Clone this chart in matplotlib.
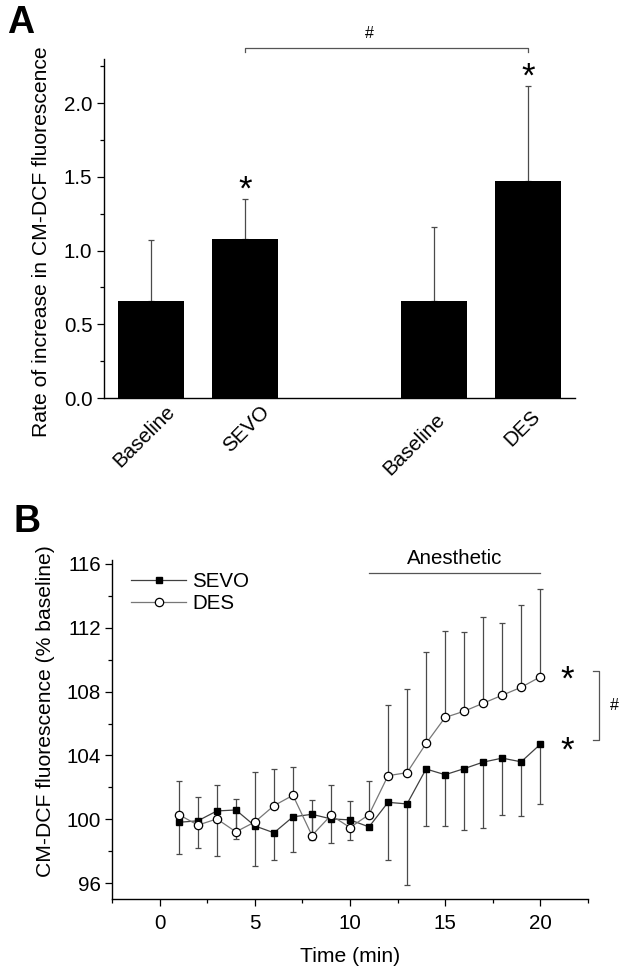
import numpy as np
import matplotlib
matplotlib.use("Agg")
import matplotlib.pyplot as plt
import matplotlib.transforms as mtrans

plt.rcParams['font.family'] = ['Liberation Sans', 'DejaVu Sans']

# ---------------- Data: panel A ----------------
a_labels = ["Baseline", "SEVO", "Baseline", "DES"]
a_pos = [1, 2, 4, 5]
a_values = [0.659, 1.079, 0.655, 1.471]
a_err = [0.413, 0.268, 0.505, 0.644]
a_star = [False, True, False, True]

# ---------------- Data: panel B ----------------
time_min = list(range(1, 21))
sevo_mean = [99.81, 99.90, 100.52, 100.58, 99.58, 99.15, 100.15, 100.31, 100.02, 99.96,
             99.52, 101.06, 100.96, 103.15, 102.79, 103.17, 103.58, 103.83, 103.60, 104.69]
sevo_err_down = [2.00, 1.73, 2.83, 1.79, 2.50, 1.71, 2.23, 1.62, 1.52, 1.25,
                 0.00, 3.62, 5.06, 3.55, 3.23, 3.82, 4.10, 3.56, 3.41, 3.75]
des_mean = [100.29, 99.63, 100.02, 99.21, 99.83, 100.85, 101.50, 98.98, 100.25, 99.48,
            100.29, 102.73, 102.92, 104.75, 106.38, 106.77, 107.27, 107.77, 108.27, 108.92]
des_err_up = [2.11, 1.79, 2.11, 2.04, 3.15, 2.28, 1.77, 2.21, 1.92, 1.65,
              2.11, 4.42, 5.27, 5.73, 5.41, 4.94, 5.40, 4.54, 5.13, 5.49]
anesthetic_span = [11, 20]

W, H = 624, 973
fig = plt.figure(figsize=(W / 100, H / 100), dpi=100)

TICK_FS = 14.8
LABEL_FS = 15.2
ERR_C = '#4a4a4a'

# ================= Panel A =================
axA = fig.add_axes([103.6 / W, 1 - 398 / H, 471.4 / W, 339 / H])
axA.bar(a_pos, a_values, width=0.7, color='black', zorder=3)
axA.errorbar(a_pos, a_values, yerr=[np.zeros(len(a_err)), a_err], fmt='none',
             ecolor=ERR_C, elinewidth=0.9, capsize=2.5, capthick=0.9, zorder=2)
for x, v, e, s in zip(a_pos, a_values, a_err, a_star):
    if s:
        axA.text(x, v + e, '*', ha='center', va='baseline', fontsize=25)
axA.set_xlim(0.5, 5.5)
axA.set_ylim(0, 2.3)
axA.set_yticks([0.0, 0.5, 1.0, 1.5, 2.0])
axA.set_yticks([0.25, 0.75, 1.25, 1.75, 2.25], minor=True)
axA.yaxis.set_major_formatter(matplotlib.ticker.FormatStrFormatter('%.1f'))
axA.set_xticks(a_pos)
axA.set_xticklabels(a_labels, rotation=45, ha='right', va='top',
                    rotation_mode='anchor', fontsize=TICK_FS)
axA.tick_params(axis='x', length=0, pad=0)
axA.tick_params(axis='y', which='major', direction='out', length=5, width=0.9,
                labelsize=TICK_FS, pad=3)
axA.tick_params(axis='y', which='minor', direction='out', length=3, width=0.9)
for sp in ['top', 'right']:
    axA.spines[sp].set_visible(False)
for sp in ['left', 'bottom']:
    axA.spines[sp].set_linewidth(1.0)
axA.set_ylabel('Rate of increase in CM-DCF fluorescence', fontsize=LABEL_FS)
axA.yaxis.set_label_coords(-0.112, 0.461)

offsets = [(15, -4), (15, -4), (2, -12), (3, -9)]
for lbl, (dx, dy) in zip(axA.get_xticklabels(), offsets):
    lbl.set_transform(lbl.get_transform() +
                      mtrans.ScaledTranslation(dx / 100, dy / 100, fig.dpi_scale_trans))

# significance bracket
br_y, br_tick = 2.372, 2.345
axA.plot([2, 2, 5, 5], [br_tick, br_y, br_y, br_tick], color='#555555', lw=0.9,
         clip_on=False)
axA.text(3.32, 2.42, '#', ha='center', va='bottom', fontsize=11.5, clip_on=False)

fig.text(7 / W, 1 - 23 / H, 'A', fontsize=27, fontweight='bold', ha='left', va='center')

# ================= Panel B =================
axB = fig.add_axes([112.3 / W, 1 - 899 / H, 475.4 / W, 339 / H])
axB.errorbar(time_min, des_mean, yerr=[np.zeros(len(des_err_up)), des_err_up], fmt='none',
             ecolor=ERR_C, elinewidth=0.9, capsize=2.5, capthick=0.9, zorder=2)
axB.errorbar(time_min, sevo_mean, yerr=[sevo_err_down, np.zeros(len(sevo_err_down))],
             fmt='none', ecolor=ERR_C, elinewidth=0.9, capsize=2.5, capthick=0.9, zorder=2)
axB.plot(time_min, sevo_mean, '-s', color='#404040', lw=0.9, markersize=5,
         markerfacecolor='black', markeredgecolor='black', label='SEVO', zorder=4)
axB.plot(time_min, des_mean, '-o', color='#777777', lw=0.9, markersize=6,
         markerfacecolor='white', markeredgecolor='black', markeredgewidth=0.9,
         label='DES', zorder=5)

axB.set_xlim(-2.5, 22.5)
axB.set_ylim(95, 116.25)
axB.set_yticks([96, 100, 104, 108, 112, 116])
axB.set_yticks([98, 102, 106, 110, 114], minor=True)
axB.set_xticks([0, 5, 10, 15, 20])
axB.set_xticks([-2.5, 2.5, 7.5, 12.5, 17.5, 22.5], minor=True)
axB.tick_params(which='major', direction='out', length=5, width=0.9,
                labelsize=TICK_FS, pad=3)
axB.tick_params(which='minor', direction='out', length=3, width=0.9)
axB.tick_params(axis='x', pad=6)
for sp in ['top', 'right']:
    axB.spines[sp].set_visible(False)
for sp in ['left', 'bottom']:
    axB.spines[sp].set_linewidth(1.0)
axB.set_xlabel('Time (min)', fontsize=LABEL_FS, labelpad=10)
axB.set_ylabel('CM-DCF fluorescence (% baseline)', fontsize=LABEL_FS)
axB.yaxis.set_label_coords(-0.121, 0.555)

leg = axB.legend(loc='upper left', bbox_to_anchor=(0.0, 1.02), frameon=False,
                 fontsize=TICK_FS, handlelength=2.7, handletextpad=0.3,
                 labelspacing=0.15, borderaxespad=0.5)

# anesthetic bar
axB.plot(anesthetic_span, [115.44, 115.44], color='#555555', lw=0.9, clip_on=False)
axB.text(np.mean(anesthetic_span), 115.72, 'Anesthetic', ha='center', va='bottom',
         fontsize=TICK_FS, clip_on=False)

# stars and bracket
axB.text(21.4, 108.1, '*', ha='center', va='baseline', fontsize=25, clip_on=False)
axB.text(21.4, 103.65, '*', ha='center', va='baseline', fontsize=25, clip_on=False)
axB.plot([22.8, 23.1, 23.1, 22.8], [109.31, 109.31, 104.97, 104.97], color='#555555',
         lw=0.9, clip_on=False)
axB.text(23.9, 107.1, '#', ha='center', va='center', fontsize=11.5, clip_on=False)

fig.text(13 / W, 1 - 522 / H, 'B', fontsize=27, fontweight='bold', ha='left', va='center')

fig.savefig('out.png', dpi=100)
